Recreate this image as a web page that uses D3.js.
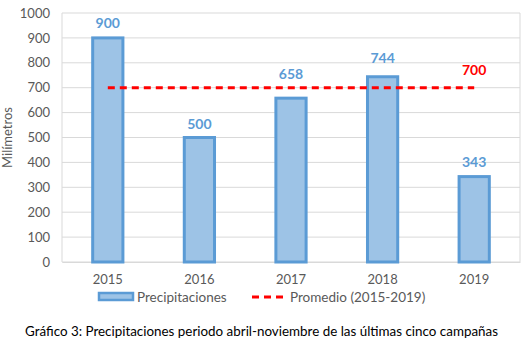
<!DOCTYPE html>
<html>
<head>
<meta charset="utf-8">
<script src="https://cdn.jsdelivr.net/npm/d3@7"></script>
<style>
  html, body { margin: 0; padding: 0; background: #fff; }
  svg { display: block; font-family: Lato, "Open Sans", sans-serif; }
</style>
</head>
<body>
<svg id="chart" width="529" height="341"></svg>
<script>
// Precipitation per campaign (April–November), in millimetres
const years = ["2015", "2016", "2017", "2018", "2019"];
const precipitation = [900, 500, 658, 744, 343];
const average = 700;
const yTicks = [0, 100, 200, 300, 400, 500, 600, 700, 800, 900, 1000];

const svg = d3.select("#chart");
const margin = { top: 13, right: 9, bottom: 79, left: 62 };
const W = 529, H = 341;
const innerW = W - margin.left - margin.right;
const innerH = H - margin.top - margin.bottom;

const x = d3.scaleBand().domain(years).range([margin.left, margin.left + innerW]).paddingInner(0.67).paddingOuter(0.335);
const y = d3.scaleLinear().domain([0, 1000]).range([margin.top + innerH, margin.top]);

// gridlines
svg.append("g")
  .selectAll("line")
  .data(yTicks)
  .join("line")
  .attr("x1", margin.left).attr("x2", margin.left + innerW)
  .attr("y1", d => y(d)).attr("y2", d => y(d))
  .attr("stroke", "#d9d9d9").attr("stroke-width", 1);

// plot frame (left and right edges)
svg.append("line")
  .attr("x1", margin.left).attr("x2", margin.left)
  .attr("y1", margin.top).attr("y2", margin.top + innerH)
  .attr("stroke", "#d9d9d9");
svg.append("line")
  .attr("x1", margin.left + innerW).attr("x2", margin.left + innerW)
  .attr("y1", margin.top).attr("y2", margin.top + innerH)
  .attr("stroke", "#d9d9d9");

// y axis labels
const yAxis = d3.axisLeft(y).tickValues(yTicks).tickFormat(d3.format("d")).tickSize(0).tickPadding(12);
const gy = svg.append("g").attr("transform", `translate(${margin.left},0)`).call(yAxis);
gy.select(".domain").remove();
gy.selectAll("text").attr("fill", "#595959").style("font-size", "13px").style("font-family", "Lato, sans-serif");

// x axis labels
const xAxis = d3.axisBottom(x).tickSize(0).tickPadding(13);
const gx = svg.append("g").attr("transform", `translate(0,${margin.top + innerH})`).call(xAxis);
gx.select(".domain").attr("stroke", "#d9d9d9");
gx.selectAll("text").attr("fill", "#595959").style("font-size", "13px").style("font-family", "Lato, sans-serif");

// y axis title
svg.append("text")
  .attr("transform", `translate(12,${y(500)}) rotate(-90)`)
  .attr("text-anchor", "middle")
  .attr("fill", "#595959")
  .style("font-size", "13px")
  .text("Milímetros");

// bars
svg.append("g")
  .selectAll("rect")
  .data(years)
  .join("rect")
  .attr("x", d => x(d))
  .attr("width", x.bandwidth())
  .attr("y", (d, i) => y(precipitation[i]))
  .attr("height", (d, i) => y(0) - y(precipitation[i]))
  .attr("fill", "#9dc3e6")
  .attr("stroke", "#5b9bd5")
  .attr("stroke-width", 3);

// bar value labels; some are lifted clear of the average line
const labelLift = { "2015": 10, "2016": 8.5, "2017": 19, "2018": 13.5, "2019": 10 };
svg.append("g")
  .selectAll("text")
  .data(years)
  .join("text")
  .attr("x", d => x(d) + x.bandwidth() / 2)
  .attr("y", (d, i) => y(precipitation[i]) - labelLift[d])
  .attr("text-anchor", "middle")
  .attr("fill", "#5b9bd5")
  .style("font-size", "14px")
  .style("font-weight", "bold")
  .text((d, i) => precipitation[i]);

// average line
const cx = d => x(d) + x.bandwidth() / 2;
svg.append("line")
  .attr("x1", cx(years[0])).attr("x2", cx(years[years.length - 1]))
  .attr("y1", y(average)).attr("y2", y(average))
  .attr("stroke", "#ff0000")
  .attr("stroke-width", 3)
  .attr("stroke-dasharray", "7,5");

svg.append("text")
  .attr("x", cx(years[years.length - 1]))
  .attr("y", y(average) - 13)
  .attr("text-anchor", "middle")
  .attr("fill", "#ff0000")
  .style("font-size", "14px")
  .style("font-weight", "bold")
  .text(average);

// legend
const legY = 297;
const leg = svg.append("g");
leg.append("rect")
  .attr("x", 99).attr("y", legY - 4).attr("width", 34).attr("height", 7)
  .attr("fill", "#9dc3e6").attr("stroke", "#5b9bd5").attr("stroke-width", 2.5);
leg.append("text")
  .attr("x", 137).attr("y", legY).attr("dy", "0.35em")
  .attr("fill", "#595959").style("font-size", "13.5px")
  .text("Precipitaciones");
leg.append("line")
  .attr("x1", 252).attr("x2", 283).attr("y1", legY).attr("y2", legY)
  .attr("stroke", "#ff0000").attr("stroke-width", 3).attr("stroke-dasharray", "7,5");
leg.append("text")
  .attr("x", 290).attr("y", legY).attr("dy", "0.35em")
  .attr("fill", "#595959").style("font-size", "13.5px")
  .text("Promedio (2015-2019)");

// caption
svg.append("text")
  .attr("x", 261.5).attr("y", 331).attr("dy", "0.35em")
  .attr("text-anchor", "middle")
  .attr("fill", "#000")
  .style("font-size", "13.4px")
  .text("Gráfico 3: Precipitaciones periodo abril-noviembre de las últimas cinco campañas");
</script>
</body>
</html>
